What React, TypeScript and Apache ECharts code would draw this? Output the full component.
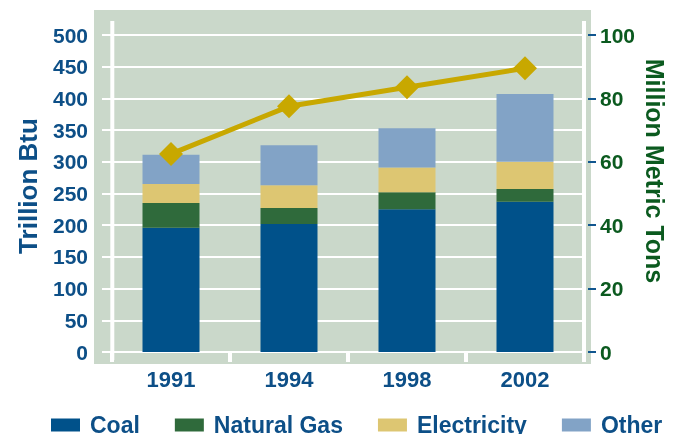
import React, { useEffect, useRef } from "react";
import * as echarts from "echarts";

const categories = ["1991", "1994", "1998", "2002"];
const coal = [196, 202, 225, 237];
const naturalGas = [39, 25, 27, 20];
const electricity = [30, 36, 39, 43];
const other = [46, 63, 62, 107];
const emissions = [62.5, 77.5, 83.5, 89.5];
const leftTitle = "Trillion Btu";
const rightTitle = "Million Metric Tons";

const FONT = '"Liberation Sans", Arial, Helvetica, sans-serif';
const BLUE_TEXT = "#0d4f87";
const GREEN_TEXT = "#0b5a1f";

export default function App() {
  const ref = useRef<HTMLDivElement>(null);
  useEffect(() => {
    if (!ref.current) return;
    const chart = echarts.init(ref.current, null, { renderer: "svg" });
    const barNames = ["Coal", "Natural Gas", "Electricity", "Other"];
    const barData = [coal, naturalGas, electricity, other];
    const barColors = ["#00518a", "#2f6a3b", "#ddc672", "#82a3c6"];
    chart.setOption({
      animation: false,
      textStyle: { fontFamily: FONT },
      grid: { left: 112, right: 98, top: 35, bottom: 82 },
      graphic: [
        {
          type: "rect",
          z: -10,
          shape: { x: 94, y: 10, width: 497, height: 354 },
          style: { fill: "#cad8ca" },
          silent: true,
        },
        {
          type: "line",
          z: 1,
          shape: { x1: 112.3, y1: 21, x2: 112.3, y2: 360 },
          style: { stroke: "#ffffff", lineWidth: 4 },
          silent: true,
        },
        {
          type: "line",
          z: 1,
          shape: { x1: 584, y1: 21, x2: 584, y2: 360 },
          style: { stroke: "#ffffff", lineWidth: 4 },
          silent: true,
        },
        {
          type: "text",
          x: 28,
          y: 186,
          rotation: Math.PI / 2,
          style: {
            text: leftTitle,
            fill: BLUE_TEXT,
            font: `bold 26px ${FONT}`,
            align: "center",
            verticalAlign: "middle",
          },
        },
        {
          type: "text",
          x: 655,
          y: 171,
          rotation: -Math.PI / 2,
          style: {
            text: rightTitle,
            fill: GREEN_TEXT,
            font: `bold 25px ${FONT}`,
            align: "center",
            verticalAlign: "middle",
          },
        },
      ],
      legend: {
        data: barNames,
        left: 46,
        top: 408,
        icon: "rect",
        itemWidth: 29,
        itemHeight: 13,
        itemGap: 35,
        selectedMode: false,
        formatter: (name: string) => `{p|}{t|${name}}`,
        textStyle: {
          color: BLUE_TEXT,
          fontWeight: "bold",
          fontSize: 23,
          fontFamily: FONT,
          lineHeight: 24,
          rich: {
            p: { width: 5, height: 10 },
            t: {
              color: BLUE_TEXT,
              fontWeight: "bold",
              fontSize: 23,
              fontFamily: FONT,
              lineHeight: 24,
            },
          },
        },
      },
      xAxis: {
        type: "category",
        data: categories,
        boundaryGap: true,
        axisLine: { show: true, lineStyle: { color: "#ffffff", width: 2 } },
        axisTick: {
          show: true,
          length: 10,
          interval: 0,
          lineStyle: { color: "#ffffff", width: 4 },
        },
        axisLabel: {
          color: BLUE_TEXT,
          fontWeight: "bold",
          fontSize: 22,
          fontFamily: FONT,
          margin: 16,
        },
      },
      yAxis: [
        {
          type: "value",
          min: 0,
          max: 500,
          interval: 50,
          axisLine: { show: false },
          axisTick: {
            show: true,
            length: 10,
            lineStyle: { color: "#ffffff", width: 2 },
          },
          splitLine: { show: true, lineStyle: { color: "#ffffff", width: 2 } },
          axisLabel: {
            color: BLUE_TEXT,
            fontWeight: "bold",
            fontSize: 21,
            fontFamily: FONT,
            margin: 24,
          },
        },
        {
          type: "value",
          position: "right",
          offset: 4,
          min: 0,
          max: 100,
          interval: 20,
          axisLine: { show: false },
          axisTick: {
            show: true,
            length: 8,
            lineStyle: { color: "#11568f", width: 2 },
          },
          splitLine: { show: false },
          axisLabel: {
            color: GREEN_TEXT,
            fontWeight: "bold",
            fontSize: 21,
            fontFamily: FONT,
            margin: 12,
          },
        },
      ],
      series: [
        ...barNames.map((name, i) => ({
          name,
          type: "bar",
          stack: "total",
          barWidth: 57,
          data: barData[i],
          itemStyle: { color: barColors[i] },
          z: 2,
        })),
        {
          name: "Emissions",
          type: "line",
          yAxisIndex: 1,
          data: emissions,
          symbol: "diamond",
          symbolSize: 24,
          lineStyle: { color: "#c8a800", width: 5 },
          itemStyle: { color: "#c8a800" },
          z: 5,
        },
      ],
    });
    return () => chart.dispose();
  }, []);
  return (
    <div
      ref={ref}
      style={{ position: "fixed", left: 0, top: 0, width: 682, height: 434 }}
    />
  );
}
